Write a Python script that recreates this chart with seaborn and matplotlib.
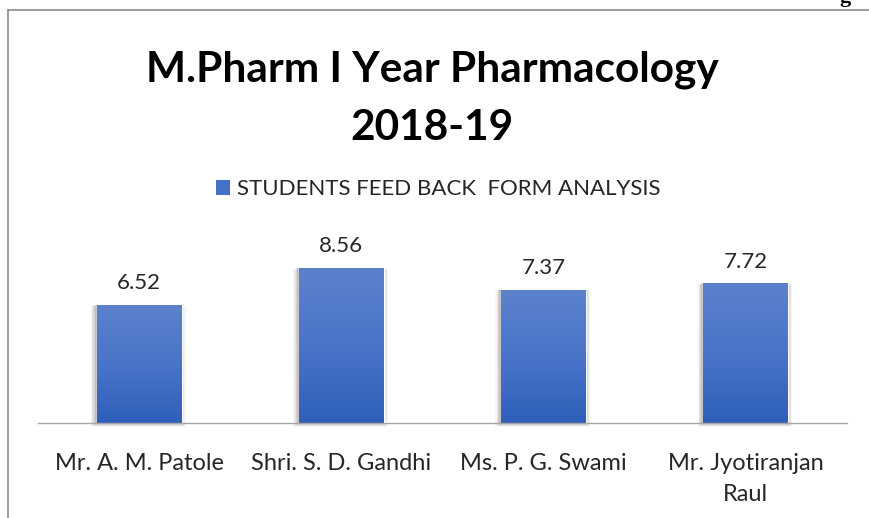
import numpy as np
import pandas as pd
import matplotlib
matplotlib.use("Agg")
import matplotlib.pyplot as plt
import seaborn as sns
from matplotlib.colors import LinearSegmentedColormap
from matplotlib.patches import Rectangle, Patch
from matplotlib.lines import Line2D

categories = ["Mr. A. M. Patole", "Shri. S. D. Gandhi", "Ms. P. G. Swami", "Mr. Jyotiranjan\nRaul"]
scores = [6.52, 8.56, 7.37, 7.72]
series_name = "STUDENTS FEED BACK  FORM ANALYSIS"

sns.set_theme(style="white")
plt.rcParams['font.family'] = ['Lato', 'DejaVu Sans']

df = pd.DataFrame({"teacher": categories, "score": scores})

W, H = 870, 518
fig = plt.figure(figsize=(8.7, 5.18), dpi=100)
ax = fig.add_axes([38 / W, (H - 423) / H, 809 / W, 181 / H])

sns.barplot(data=df, x="teacher", y="score", color="#4472C4", width=0.42, ax=ax,
            saturation=1, zorder=3)
ax.set_ylim(0, 10)
ax.set_xlim(-0.5, len(categories) - 0.5)

cmap = LinearSegmentedColormap.from_list("g", ["#2F5FBA", "#4A74C8", "#5C82CD"])
grad = np.linspace(0, 1, 256).reshape(-1, 1)
for p in ax.patches:
    x0, y0 = p.get_x(), p.get_y()
    w, h = p.get_width(), p.get_height()
    # soft shadow
    for i, a in enumerate([0.10, 0.08, 0.06, 0.04]):
        dx = 0.006 * (i + 1)
        sh = Rectangle((x0 - dx - 0.004, y0 - 0.05 * (i + 1)), w + 2 * dx, h + 0.04 * (i + 1),
                       facecolor="#000000", alpha=a, edgecolor="none", zorder=2, clip_on=False)
        ax.add_patch(sh)
    im = ax.imshow(grad, cmap=cmap, aspect="auto", origin="lower",
                   extent=[x0, x0 + w, y0, y0 + h], zorder=4)
    im.set_clip_path(p)

for i, v in enumerate(scores):
    ax.text(i, v + 1.2, f"{v:.2f}", ha="center", va="center", fontsize=16,
            color="#262626", clip_on=False)

for s in ["top", "left", "right"]:
    ax.spines[s].set_visible(False)
ax.spines["bottom"].set_color("#A6A6A6")
ax.spines["bottom"].set_linewidth(1.0)
ax.spines["bottom"].set_zorder(5)
ax.set_yticks([])
ax.set_xlabel("")
ax.set_ylabel("")
ax.tick_params(axis="x", length=0, pad=21.5, labelsize=17, labelcolor="#262626")
for lab in ax.get_xticklabels():
    lab.set_linespacing(1.6)
ax.grid(False)

fig.text(0.497, 1 - 70 / H, "M.Pharm I Year Pharmacology", ha="center", va="center",
         fontsize=30.5, fontweight="bold", color="#000000")
fig.text(0.497, 1 - 128 / H, "2018-19", ha="center", va="center",
         fontsize=30.5, fontweight="bold", color="#000000")

handle = Patch(facecolor="#4472C4", edgecolor="none")
fig.legend([handle], [series_name], loc="center", bbox_to_anchor=(438 / W, 1 - 189 / H),
           frameon=False, fontsize=16, handlelength=0.65, handleheight=0.65,
           handletextpad=0.3, labelcolor="#262626", borderpad=0)

# page frame
fig.add_artist(Line2D([8 / W, 1], [1 - 10 / H, 1 - 10 / H], transform=fig.transFigure,
                      color="#8C8C8C", lw=1.2))
fig.add_artist(Line2D([8 / W, 8 / W], [0, 1 - 10 / H], transform=fig.transFigure,
                      color="#8C8C8C", lw=1.2))
fig.text(845 / W, 1 - 2 / H, "g", ha="center", va="baseline", fontsize=16,
         fontweight="bold", family="Liberation Serif", color="#000000")

fig.savefig("out.png", dpi=100, facecolor="white")
